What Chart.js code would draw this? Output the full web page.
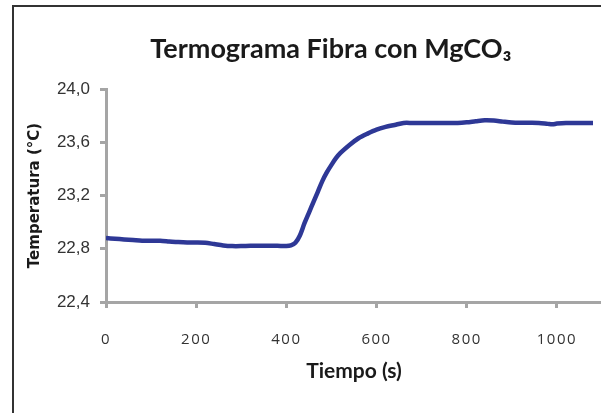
<!DOCTYPE html>
<html>
<head>
<meta charset="utf-8">
<script src="https://cdn.jsdelivr.net/npm/chart.js@4.4.1/dist/chart.umd.min.js"></script>
<style>
  html, body { margin: 0; padding: 0; background: #fff; overflow: hidden; }
  #frame {
    position: absolute; left: 12px; top: 5px; width: 700px; height: 500px;
    border-left: 2px solid #333; border-top: 2px solid #333;
  }
  #chart { position: absolute; left: 0; top: 0; }
</style>
</head>
<body>
<div id="frame"><canvas id="chart" width="626" height="406"></canvas></div>
<script>
  const tiempos = [
    0, 20, 40, 60, 80, 100, 120, 140, 160, 180, 200, 220, 240, 260, 280, 300,
    320, 340, 360, 380, 400, 410, 420, 430, 440, 450, 460, 470, 480, 490, 500,
    510, 520, 540, 560, 580, 600, 620, 640, 660, 680, 700, 720, 740, 760, 780,
    800, 820, 840, 860, 880, 900, 920, 940, 960, 980, 990, 1000, 1020, 1040,
    1060, 1080
  ];
  const temperaturas = [
    22.88, 22.875, 22.87, 22.865, 22.86, 22.86, 22.86, 22.855, 22.85, 22.847,
    22.847, 22.845, 22.835, 22.825, 22.82, 22.82, 22.822, 22.822, 22.822,
    22.822, 22.82, 22.825, 22.845, 22.9, 22.99, 23.07, 23.15, 23.23, 23.31,
    23.375, 23.43, 23.48, 23.52, 23.58, 23.63, 23.665, 23.695, 23.715, 23.73,
    23.745, 23.745, 23.745, 23.745, 23.745, 23.745, 23.745, 23.75, 23.758,
    23.765, 23.763, 23.755, 23.748, 23.746, 23.746, 23.745, 23.738, 23.735,
    23.74, 23.745, 23.745, 23.745, 23.745
  ];
  const xTicks = [0, 200, 400, 600, 800, 1000];
  const yTicks = [22.4, 22.8, 23.2, 23.6, 24.0];

  const axisGray = "#a5a5a5";

  // shift the title a bit to the right, like the original sheet
  const titleShift = {
    id: "titleShift",
    afterLayout(chart) {
      chart.titleBlock.left += 23;
      chart.titleBlock.right += 23;
    },
  };

  // x tick labels are spaced out a little in the original
  function spaceXLabels(scale) {
    if (scale._spaced) return;
    scale._spaced = true;
    const orig = scale.drawLabels.bind(scale);
    scale.drawLabels = (area) => {
      scale.ctx.letterSpacing = "1.5px";
      orig(area);
      scale.ctx.letterSpacing = "0px";
    };
  }

  new Chart(document.getElementById("chart"), {
    type: "line",
    data: {
      datasets: [
        {
          data: tiempos.map((t, i) => ({ x: t, y: temperaturas[i] })),
          borderColor: "#2e3896",
          borderWidth: 4.5,
          pointRadius: 0,
          tension: 0.3,
          fill: false,
        },
      ],
    },
    options: {
      responsive: false,
      animation: false,
      layout: { padding: { left: 0, right: 38, top: 0, bottom: 29 } },
      plugins: {
        legend: { display: false },
        tooltip: { enabled: false },
        title: {
          display: true,
          text: "Termograma Fibra con MgCO₃",
          color: "#1a1a1a",
          font: { family: "Lato", size: 27, weight: "bold" },
          padding: { top: 26, bottom: 23.6 },
        },
      },
      scales: {
        x: {
          type: "linear",
          min: 0,
          max: 1100,
          afterBuildTicks: (s) => { s.ticks = xTicks.map((v) => ({ value: v })); },
          afterFit: (s) => { s.height = 82; spaceXLabels(s); },
          grid: {
            display: true, drawOnChartArea: false, drawTicks: true,
            tickLength: 6, tickColor: axisGray, tickWidth: 3,
          },
          border: { display: true, color: axisGray, width: 3 },
          ticks: {
            color: "#333",
            padding: 23,
            maxRotation: 0,
            font: { family: "Open Sans", size: 15 },
            callback: (v) => String(v),
          },
          title: {
            display: true,
            text: "Tiempo (s)",
            color: "#1a1a1a",
            font: { family: "Lato", size: 21, weight: "bold" },
            padding: { top: 0, bottom: 0 },
          },
        },
        y: {
          min: 22.4,
          max: 24.0,
          afterBuildTicks: (s) => { s.ticks = yTicks.map((v) => ({ value: v })); },
          afterFit: (s) => { s.width = 92; },
          grid: {
            display: true, drawOnChartArea: false, drawTicks: true,
            tickLength: 6, tickColor: axisGray, tickWidth: 3,
          },
          border: { display: true, color: axisGray, width: 3 },
          ticks: {
            color: "#333",
            padding: 10,
            font: { family: "Liberation Sans", size: 17 },
            callback: (v) => v.toFixed(1).replace(".", ","),
          },
          title: {
            display: true,
            text: "Temperatura (°C)",
            color: "#1a1a1a",
            font: { family: "DejaVu Sans", size: 15, weight: "bold" },
            padding: { top: 12, bottom: 0 },
          },
        },
      },
    },
    plugins: [titleShift],
  });
</script>
</body>
</html>
